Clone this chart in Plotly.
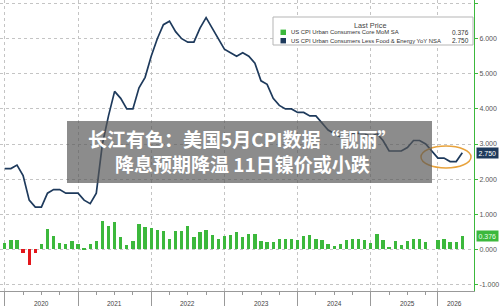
import plotly.graph_objects as go

# ---------------- data ----------------
month_idx = list(range(76))  # Dec 2019 .. Mar 2026 (month-end positions)
core_mom = [0.18, 0.26, 0.26, -0.10, -0.45, -0.10, 0.16, 0.57, 0.38, 0.18,
            0.16, 0.25, 0.14, 0.02, 0.14, 0.25, 0.81, 0.66, 0.78, 0.35,
            0.12, 0.25, 0.71, 0.64, 0.62, 0.54, 0.52, 0.28, 0.51, 0.53,
            0.67, 0.35, 0.48, 0.56, 0.41, 0.30, 0.37, 0.41, 0.48, 0.35,
            0.45, 0.45, 0.24, 0.21, 0.21, 0.30, 0.30, 0.28, 0.26, 0.38,
            0.40, 0.28, 0.26, 0.14, 0.09, 0.16, 0.26, 0.30, 0.30, 0.26,
            0.19, 0.43, 0.26, 0.07, 0.24, 0.13, 0.24, 0.30, 0.30, 0.21,
            None, 0.26, 0.28, 0.21, 0.21, 0.376]
core_yoy = [2.3, 2.3, 2.4, 2.1, 1.4, 1.2, 1.2, 1.6, 1.7, 1.7,
            1.6, 1.6, 1.6, 1.4, 1.3, 1.6, 3.0, 3.8, 4.5, 4.3,
            4.0, 4.0, 4.6, 4.9, 5.5, 6.0, 6.4, 6.5, 6.2, 6.0,
            5.9, 5.9, 6.3, 6.6, 6.3, 6.0, 5.7, 5.6, 5.5, 5.6,
            5.5, 5.3, 4.8, 4.7, 4.3, 4.1, 4.0, 4.0, 3.9, 3.9,
            3.8, 3.8, 3.6, 3.4, 3.3, 3.2, 3.2, 3.3, 3.3, 3.3,
            3.2, 3.3, 3.1, 2.8, 2.8, 2.8, 2.9, 3.1, 3.1, 3.0,
            None, 2.6, 2.6, 2.5, 2.5, 2.75]
year_labels = ["2020", "2021", "2022", "2023", "2024", "2025", "2026"]
year_label_pos = [6, 18, 30, 42, 54, 66, 73.8]
year_bounds = [0, 12, 24, 36, 48, 60, 71]
quarter_ticks = [3, 6, 9, 15, 18, 21, 27, 30, 33, 39, 42, 45, 51, 54, 57, 63, 66, 69]
y_ticks = [-1, 0, 1, 2, 3, 4, 5, 6, 7]
y_ticktext = ["-1.000", "0.000", "1.000", "2.000", "3.000", "4.000", "5.000", "6.000", ""]
legend_names = ["US CPI Urban Consumers Core MoM SA",
                "US CPI Urban Consumers Less Food & Energy YoY NSA"]
last_values = ["0.376", "2.750"]
title_lines = ["长江有色：美国5月CPI数据“靓丽”", "降息预期降温 11日镍价或小跌"]

# ---------------- style ----------------
W, H = 500, 306
ML, MR, MT, MB = 0, 26, 0, 15
PW, PH = W - ML - MR, H - MT - MB
GREEN = "#3cb83c"
RED = "#e3161b"
NAVY = "#1e3a5c"
GRID = "#c4c4c4"
FONT = "Liberation Sans, Arial, sans-serif"


def px(x):
    return x / PW


def py(y):
    return (PH - y) / PH


bar_colors = [RED if (v is not None and v < 0) else GREEN for v in core_mom]

fig = go.Figure()
fig.add_trace(go.Bar(x=month_idx, y=core_mom, marker=dict(color=bar_colors, line=dict(width=0)),
                     width=0.55, showlegend=False))
fig.add_trace(go.Scatter(x=month_idx, y=core_yoy, mode="lines", connectgaps=True,
                         line=dict(color=NAVY, width=1.7), showlegend=False))

shapes = []
annotations = []

# Legend box
shapes.append(dict(type="rect", xref="paper", yref="paper", x0=px(273), x1=px(473),
                   y0=py(45), y1=py(17), line=dict(color="#b5b5b5", width=1),
                   fillcolor="white", layer="above"))
annotations.append(dict(xref="paper", yref="paper", x=px(370), y=py(25.5), text="Last Price",
                        showarrow=False, xanchor="center", yanchor="middle",
                        font=dict(size=7.3, color="#444", family=FONT)))
for k, (name, val, col) in enumerate(zip(legend_names, last_values, [GREEN, NAVY])):
    yc = 32.3 + k * 8.4
    shapes.append(dict(type="rect", xref="paper", yref="paper", x0=px(280.5), x1=px(286),
                       y0=py(yc + 2.7), y1=py(yc - 2.7), line=dict(width=0), fillcolor=col,
                       layer="above"))
    annotations.append(dict(xref="paper", yref="paper", x=px(288.5), y=py(yc), text=name,
                            showarrow=False, xanchor="left", yanchor="middle",
                            font=dict(size=5.9, color="#333", family=FONT)))
    annotations.append(dict(xref="paper", yref="paper", x=px(471), y=py(yc), text=val,
                            showarrow=False, xanchor="right", yanchor="middle",
                            font=dict(size=6.5, color="#333", family=FONT)))

# Last-value tags on the right axis
for val, yv, bg, fc in [(last_values[1], core_yoy[-1], NAVY, "white"),
                        (last_values[0], core_mom[-1], GREEN, "#eaffea")]:
    annotations.append(dict(xref="paper", yref="y", x=px(476), y=yv, text=val,
                            showarrow=False, xanchor="left", yanchor="middle",
                            bgcolor=bg, borderpad=1.5,
                            font=dict(size=7, color=fc, family=FONT)))

# Orange ellipse around the last points
shapes.append(dict(type="circle", xref="paper", yref="paper", x0=px(421), x1=px(471),
                   y0=py(168), y1=py(146), line=dict(color="#e8a33d", width=1.5)))

# Title overlay box
shapes.append(dict(type="rect", xref="paper", yref="paper", x0=px(67), x1=px(432),
                   y0=py(183), y1=py(121), line=dict(width=0),
                   fillcolor="rgba(85,85,85,0.68)", layer="above"))
annotations.append(dict(xref="paper", yref="paper", x=px(243), y=py(151.5),
                        text="<br>".join("<b>" + t + "</b>" for t in title_lines),
                        showarrow=False, xanchor="center", yanchor="middle", align="center",
                        font=dict(size=19, color="white", family="Noto Sans CJK SC")))

# Year labels
for lab, pos in zip(year_labels, year_label_pos):
    annotations.append(dict(xref="x", yref="paper", x=pos, y=py(303), text=lab,
                            showarrow=False, xanchor="center", yanchor="middle",
                            font=dict(size=6.5, color="#444", family=FONT)))

x0 = -4.8 / 6.1
x1 = (474 - 4.8) / 6.1
y_top = 249.3 / 35.1
y_bot = (249.3 - PH) / 35.1

fig.update_layout(
    width=W, height=H, margin=dict(l=ML, r=MR, t=MT, b=MB),
    paper_bgcolor="white", plot_bgcolor="white",
    bargap=0, shapes=shapes, annotations=annotations,
    xaxis=dict(range=[x0, x1], tickmode="array", tickvals=year_bounds,
               ticktext=[""] * len(year_bounds), ticks="outside", ticklen=16,
               tickcolor="#999", tickwidth=1, showgrid=True, gridcolor=GRID,
               griddash="dot", gridwidth=1, showline=True, linecolor="#999",
               linewidth=1, zeroline=False,
               minor=dict(tickmode="array", tickvals=quarter_ticks, ticks="outside",
                          ticklen=3, tickcolor="#999", showgrid=False)),
    yaxis=dict(range=[y_bot, y_top], side="right", tickmode="array", tickvals=y_ticks,
               ticktext=y_ticktext, ticks="outside", ticklen=3, tickcolor=GREEN,
               showgrid=True, gridcolor=GRID, griddash="dot", gridwidth=1,
               showline=True, linecolor=GREEN, linewidth=1, zeroline=False,
               tickfont=dict(size=7, color="#555", family=FONT)),
)

fig.write_html("out.html")
